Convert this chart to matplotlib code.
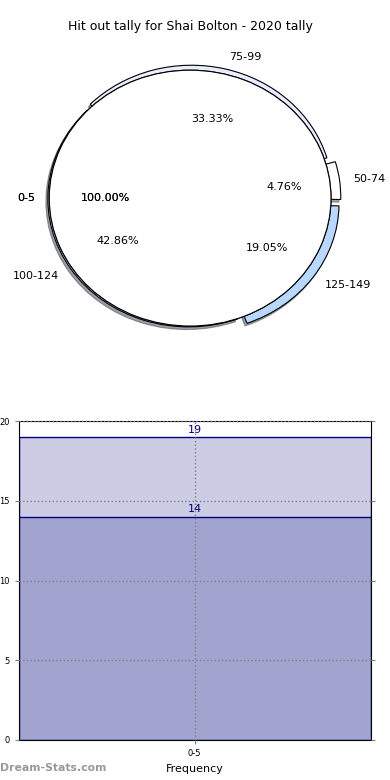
import matplotlib
matplotlib.use("Agg")
import matplotlib.pyplot as plt

# pie data
ranges = ['75-99', '50-74', '125-149', '100-124']
counts = [7, 1, 4, 9]
explode = [0.04, 0.07, 0.07, 0.012]
pie_colors = ['#e8eeff', '#ffffff', '#b8d8ff', '#c0d8ff']

full_label = ['0-5']
full_count = [1]

# bar data
bar_cats = ['0-5']
bar_back = [19]
bar_front = [14]

fig = plt.figure(figsize=(3.9, 7.8), dpi=100)

ax1 = fig.add_axes([0.036, 0.541, 0.903, 0.41])
ax1.pie(counts, labels=ranges, explode=explode, colors=pie_colors,
        autopct='%1.2f%%', shadow={'ox': -0.01, 'oy': -0.015}, startangle=136,
        counterclock=False, wedgeprops=dict(edgecolor='black', linewidth=0.8),
        textprops=dict(fontsize=8))
# full circle on top, drawn twice like the original
for k in range(2):
    ax1.pie(full_count, labels=full_label, colors=['white'],
            autopct='%1.2f%%', shadow=False, startangle=0,
            wedgeprops=dict(edgecolor='black', linewidth=0.8),
            textprops=dict(fontsize=8))
ax1.set_aspect('auto')
ax1.set_xlim(-1.25, 1.25)
ax1.set_ylim(-1.25, 1.25)
ax1.set_title('Hit out tally for Shai Bolton - 2020 tally', fontsize=9, pad=6)

ax2 = fig.add_axes([0.0487, 0.0513, 0.9013, 0.4087])
x = range(len(bar_cats))
b1 = ax2.bar(x, bar_back, width=0.8, color='#ccccE4', edgecolor='#000080', linewidth=1, zorder=2)
b2 = ax2.bar(x, bar_front, width=0.8, color='#a2a4d0', edgecolor='#000080', linewidth=1, zorder=2)
for bars in (b1, b2):
    for r in bars:
        ax2.text(r.get_x() + r.get_width() / 2, r.get_height() + 0.15, str(int(r.get_height())),
                 ha='center', va='bottom', fontsize=8, color='#000080', zorder=4)
ax2.set_xlim(-0.4, 0.4)
ax2.set_ylim(0, 20)
ax2.set_yticks([0, 5, 10, 15, 20])
ax2.set_xticks(list(x))
ax2.set_xticklabels(bar_cats)
ax2.tick_params(labelsize=6, length=3, color='gray', right=True, top=False)
ax2.grid(True, linestyle=':', color='gray', linewidth=1, zorder=3)
ax2.set_axisbelow(False)
ax2.set_xlabel('Frequency', fontsize=8)
ax2.set_ylabel('Scores in this range', fontsize=8)

fig.text(0.0, 0.012, 'Dream-Stats.com', fontsize=7.8, color='#999999', fontweight='bold')

fig.savefig('out.png', dpi=100)
